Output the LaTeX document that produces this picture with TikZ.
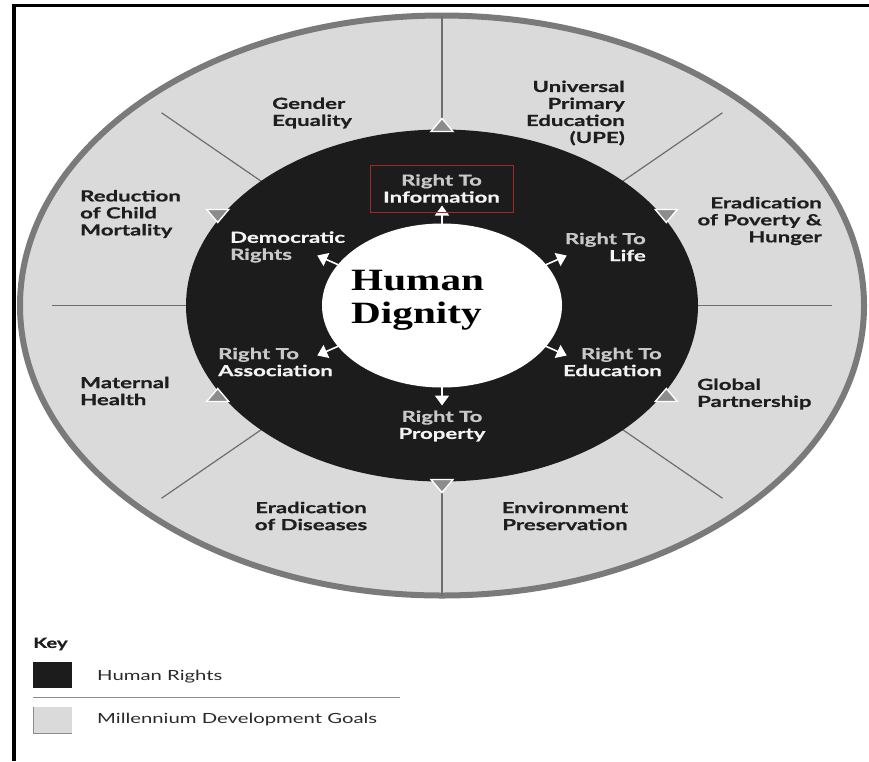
\documentclass[tikz,border=0pt]{standalone}
\usepackage{fontspec}
\newfontfamily\labfont[FakeStretch=1.45, BoldFeatures={FakeBold=0.7}]{Lato}
\newfontfamily\keyfont[FakeStretch=1.45]{Lato}
\newfontfamily\hdfont[FakeStretch=1.33]{Liberation Serif}
\usetikzlibrary{arrows.meta,calc}
\definecolor{mdg}{HTML}{DADADA}
\definecolor{ring}{HTML}{7A7A7A}
\definecolor{hr}{HTML}{1C1C1C}
\definecolor{divl}{HTML}{6E6E6E}
\definecolor{trig}{HTML}{8C8C8C}
\definecolor{lgtxt}{HTML}{C8C8C8}
\definecolor{wtxt}{HTML}{F4F4F4}
\definecolor{boxred}{HTML}{A02828}
\definecolor{txt}{HTML}{1E1E1E}
\definecolor{keytxt}{HTML}{2A2A2A}
\tikzset{
  goal/.style={font=\labfont\bfseries\fontsize{15.3}{17}\selectfont, text=txt, inner sep=0pt},
  hrlab/.style={font=\labfont\bfseries\fontsize{15.3}{17}\selectfont, inner sep=0pt},
  divline/.style={draw=divl, line width=1.2},
  outtri/.style={fill=trig, draw=white, line width=1.4, line join=miter},
  inarrow/.style={draw=white, line width=1.6, -{Triangle[width=14pt,length=10pt,fill=white]}},
  keytext/.style={font=\keyfont\fontsize{14}{16}\selectfont, text=keytxt, inner sep=0pt, anchor=west}
}
\begin{document}
\begin{tikzpicture}[x=1pt,y=-1pt]
\useasboundingbox (0,0) rectangle (869,761);
\fill[white] (0,0) rectangle (869,761);
% frame
\draw[line width=3.5] (869,5.5) -- (14,5.5) -- (14,761);
\coordinate (O) at (442,305.5);
% outer ring (MDG)
\draw[fill=mdg, draw=ring, line width=6] (O) ellipse [x radius=422, y radius=290];
% sector dividers
\foreach \ang/\sc in {0/0.925,45/0.94,90/1,135/0.94,180/0.925,225/0.94,270/1,315/0.94}
  \draw[divline] (O) -- ($(O)+({422*\sc*cos(\ang)},{-290*\sc*sin(\ang)})$);
% human rights disc
\fill[hr] (O) ellipse [x radius=256, y radius=176];
% outer triangles
\foreach \ang/\d in {90/1,210/1,330/1,30/-1,150/-1,270/-1} {
  \coordinate (T) at ($(O)+({259*cos(\ang)},{-180*sin(\ang)})$);
  \draw[outtri] ($(T)+(0,-7*\d)$) -- ($(T)+(-11,6*\d)$) -- ($(T)+(11,6*\d)$) -- cycle;
}
% human dignity disc
\fill[white] (O) ellipse [x radius=120, y radius=82];
% inner arrows
\foreach \ang in {90,30,150,210,330,270} {
  \coordinate (As) at ($(O)+({118*cos(\ang)},{-80*sin(\ang)})$);
  \coordinate (At) at ($(O)+({144*cos(\ang)},{-100*sin(\ang)})$);
  \draw[inarrow] (As) -- (At);
}
% centre text
\node[font=\hdfont\bfseries\fontsize{31}{33}\selectfont, align=left, anchor=west, inner sep=0pt] (hd) at (351,300) {Human\\Dignity};
% goals
\node[goal, align=left, anchor=west] (ge) at (272,113) {Gender\\Equality};
\node[goal, align=right, anchor=east] (upe) at (625,113) {Universal\\Primary\\Education\\(UPE)};
\node[goal, align=left, anchor=west] (rcm) at (80,214) {Reduction\\of Child\\Mortality};
\node[goal, align=right, anchor=east] (eph) at (822,221) {Eradication\\of Poverty \&\\Hunger};
\node[goal, align=left, anchor=west] (mh) at (80,391) {Maternal\\Health};
\node[goal, align=left, anchor=west] (gp) at (697,394) {Global\\Partnership};
\node[goal, align=center] (ed) at (311,516) {Eradication\\of Diseases};
\node[goal, align=center] (ep) at (565,516) {Environment\\Preservation};
% rights
\node[hrlab, align=center, draw=boxred, line width=0.9, minimum width=143, minimum height=47] (rti) at (441.5,188.5) {\textcolor{lgtxt}{Right To}\\\textcolor{wtxt}{Information}};
\node[hrlab, align=left, anchor=west] (dr) at (230,247) {\textcolor{wtxt}{Democratic}\\\textcolor{lgtxt}{Rights}};
\node[hrlab, align=right, anchor=east] (rtl) at (646,247) {\textcolor{lgtxt}{Right To}\\\textcolor{wtxt}{Life}};
\node[hrlab, align=left, anchor=west] (rta) at (218,362) {\textcolor{lgtxt}{Right To}\\\textcolor{wtxt}{Association}};
\node[hrlab, align=right, anchor=east] (rte) at (662,362) {\textcolor{lgtxt}{Right To}\\\textcolor{wtxt}{Education}};
\node[hrlab, align=center] (rtp) at (442,426) {\textcolor{lgtxt}{Right To}\\\textcolor{wtxt}{Property}};
% key
\node[font=\labfont\bfseries\fontsize{14}{16}\selectfont, text=txt, anchor=west, inner sep=0pt] (key) at (33,644) {Key};
\node[fill=hr, minimum width=39, minimum height=26, inner sep=0pt, anchor=north west] (khr) at (33,662) {};
\node[keytext] (khrt) at (97,677) {Human Rights};
\draw[draw=black!45, line width=1] (33,697) -- (400,697);
\node[fill=mdg, minimum width=39, minimum height=26, inner sep=0pt, anchor=north west] (kmdg) at (33,707) {};
\draw[black!45, line width=1] (kmdg.north west) -- (kmdg.south west) -- (kmdg.south east);
\node[keytext] (kmdgt) at (97,720) {Millennium Development Goals};
\end{tikzpicture}
\end{document}
